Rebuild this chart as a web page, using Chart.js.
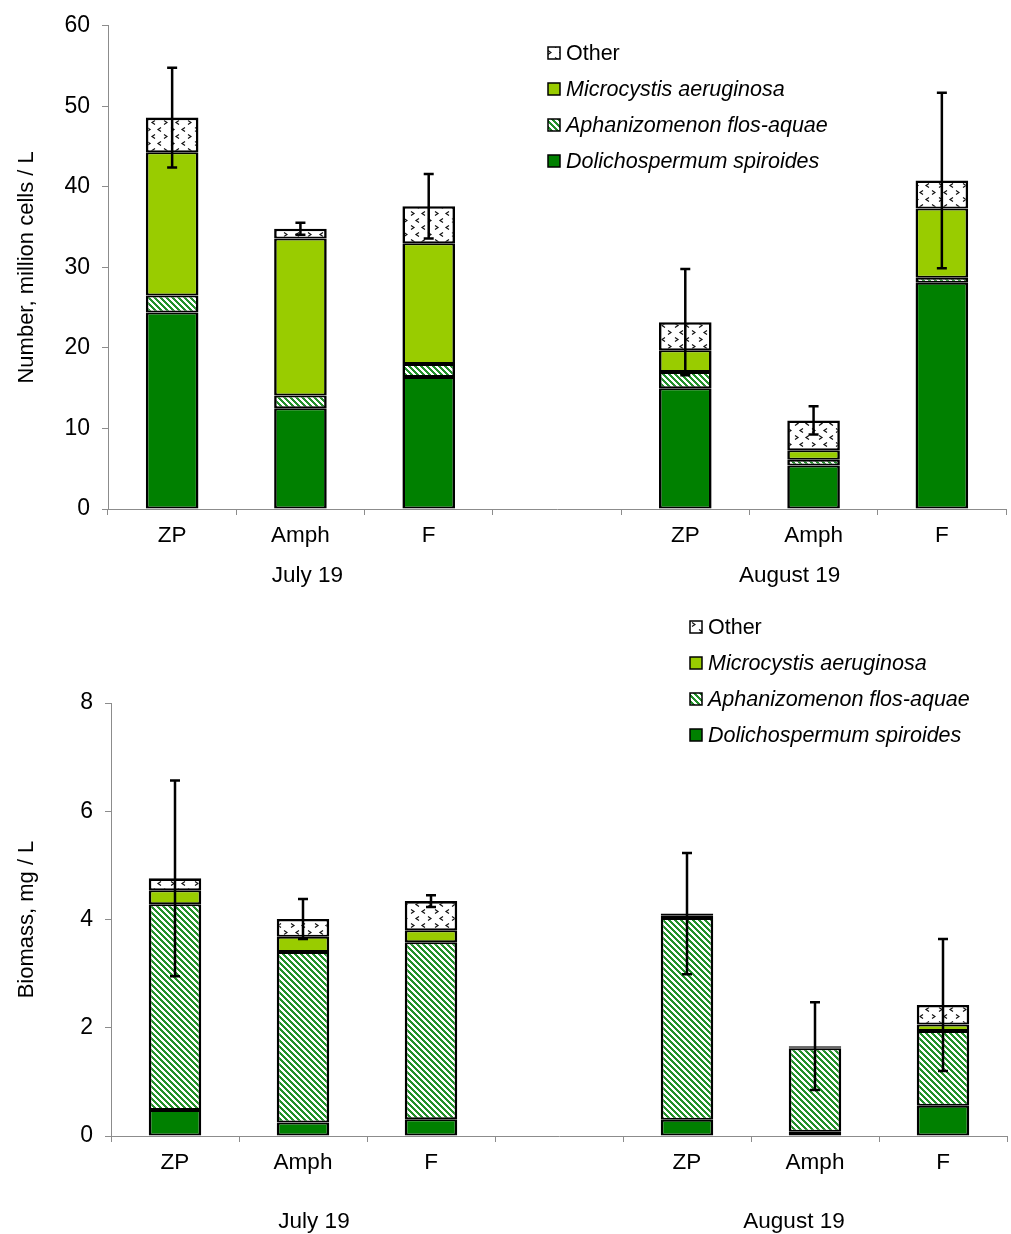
<!DOCTYPE html>
<html>
<head>
<meta charset="utf-8">
<script src="https://cdn.jsdelivr.net/npm/chart.js@4.4.1/dist/chart.umd.min.js"></script>
<style>
  body { margin: 0; background: #fff; }
  .box { position: absolute; left: 0; width: 1011px; }
  #top { top: 0; height: 600px; }
  #bottom { top: 600px; height: 634px; }
</style>
</head>
<body>
<div class="box" id="top"><canvas id="count-chart"></canvas></div>
<div class="box" id="bottom"><canvas id="mass-chart"></canvas></div>
<script>
const categories = ['ZP', 'Amph', 'F', '', 'ZP', 'Amph', 'F'];
const groupLabels = ['July 19', 'August 19'];

// number, million cells / L
const dolichoCount = [24.4, 12.5, 16.4, null, 15.0, 5.4, 28.1];
const aphanCount   = [2.1, 1.6, 1.6, null, 2.0, 0.7, 0.6];
const microCount   = [17.8, 19.5, 15.0, null, 2.7, 1.2, 8.6];
const otherCount   = [4.3, 1.2, 4.6, null, 3.5, 3.7, 3.5];
const countErr     = [6.2, 0.75, 4.0, null, 6.6, 1.75, 10.9];
const countTicks   = [0, 10, 20, 30, 40, 50, 60];

// biomass, mg / L
const dolichoMass = [0.48, 0.25, 0.31, null, 0.30, 0.08, 0.56];
const aphanMass   = [3.80, 3.15, 3.27, null, 3.73, 1.54, 1.38];
const microMass   = [0.26, 0.28, 0.22, null, 0.04, 0.02, 0.12];
const otherMass   = [0.22, 0.33, 0.54, null, 0.04, 0.02, 0.36];
const massErr     = [1.81, 0.37, 0.11, null, 1.12, 0.81, 1.22];
const massTicks   = [0, 2, 4, 6, 8];

const FONT = "'Liberation Sans', Arial, sans-serif";
const AXIS = '#8c8c8c';

// fills
function hatchPattern() {
  const s = 6, c = document.createElement('canvas');
  c.width = s; c.height = s;
  const g = c.getContext('2d');
  g.fillStyle = '#fff'; g.fillRect(0, 0, s, s);
  g.fillStyle = '#23902a';
  for (let x = 0; x < s; x++)
    for (let y = 0; y < s; y++)
      if (((x - y + s) % s) < 3) g.fillRect(x, y, 1, 1);
  return g.createPattern(c, 'repeat');
}
function dotPattern() {
  const c = document.createElement('canvas');
  c.width = 24; c.height = 14;
  const g = c.getContext('2d');
  g.fillStyle = '#fff'; g.fillRect(0, 0, 24, 14);
  g.strokeStyle = '#111'; g.lineWidth = 1.2;
  const chev = (x, y, d) => { g.beginPath(); g.moveTo(x, y); g.lineTo(x + 3 * d, y + 2); g.lineTo(x, y + 4); g.stroke(); };
  chev(3, 1.5, 1); chev(17, 1.5, -1); chev(11, 8.5, -1); chev(20, 8.5, 1);
  return g.createPattern(c, 'repeat');
}
const hatch = hatchPattern();
const dots = dotPattern();

function makeSets(d, a, m, o) {
  const base = {
    borderColor: '#000', borderWidth: { top: 2, bottom: 2, left: 2.6, right: 2.6 },
    borderSkipped: false, inflateAmount: 0, barPercentage: 0.41, categoryPercentage: 1
  };
  return [
    { ...base, label: 'Dolichospermum spiroides', data: d, backgroundColor: '#008000', italic: true },
    { ...base, label: 'Aphanizomenon flos-aquae', data: a, backgroundColor: hatch, italic: true },
    { ...base, label: 'Microcystis aeruginosa', data: m, backgroundColor: '#99cc00', italic: true },
    { ...base, label: 'Other', data: o, backgroundColor: dots, italic: false,
      borderWidth: { top: 2.6, bottom: 2, left: 2.6, right: 2.6 } }
  ];
}

// error bars on top of each stack
const errorBars = {
  id: 'errorBars',
  afterDatasetsDraw(chart, args, opts) {
    const ctx = chart.ctx, y = chart.scales.y;
    const n = chart.data.datasets.length;
    const last = chart.getDatasetMeta(n - 1);
    ctx.save();
    ctx.strokeStyle = '#000'; ctx.lineWidth = 2.5;
    opts.errors.forEach((e, i) => {
      if (e == null) return;
      let total = 0;
      chart.data.datasets.forEach(ds => total += ds.data[i] || 0);
      const x = last.data[i].x;
      const hi = y.getPixelForValue(total + e), lo = y.getPixelForValue(total - e);
      ctx.beginPath();
      ctx.moveTo(x, hi); ctx.lineTo(x, lo);
      ctx.moveTo(x - 5, hi); ctx.lineTo(x + 5, hi);
      ctx.moveTo(x - 5, lo); ctx.lineTo(x + 5, lo);
      ctx.stroke();
    });
    ctx.restore();
  }
};

// month labels under the category labels
const groupAxis = {
  id: 'groupAxis',
  afterDraw(chart, args, opts) {
    const ctx = chart.ctx, x = chart.scales.x;
    ctx.save();
    ctx.font = '22.5px ' + FONT; ctx.fillStyle = '#000';
    ctx.textAlign = 'center'; ctx.textBaseline = 'middle';
    opts.groups.forEach(g => {
      const cx = (x.getPixelForValue(g.from) + x.getPixelForValue(g.to)) / 2 + g.dx;
      ctx.fillText(g.label, cx, x.top + opts.dy);
    });
    ctx.restore();
  }
};

// legend with pattern swatches, reversed order
const swatchLegend = {
  id: 'swatchLegend',
  afterDraw(chart, args, opts) {
    const ctx = chart.ctx;
    const sets = chart.data.datasets.slice().reverse();
    ctx.save();
    ctx.textBaseline = 'middle';
    sets.forEach((ds, k) => {
      const cy = opts.y + k * opts.rowH;
      ctx.fillStyle = ds.backgroundColor;
      ctx.fillRect(opts.x, cy - 6, 12, 12);
      ctx.strokeStyle = '#000'; ctx.lineWidth = 1.5;
      ctx.strokeRect(opts.x, cy - 6, 12, 12);
      ctx.fillStyle = '#000';
      ctx.font = (ds.italic ? 'italic ' : '') + '21.5px ' + FONT;
      ctx.fillText(ds.label, opts.x + 18, cy + 1);
    });
    ctx.restore();
  }
};

function buildChart(id, sets, yMax, step, yTicks, title, err, o) {
  return new Chart(document.getElementById(id), {
    type: 'bar',
    data: { labels: categories, datasets: sets },
    plugins: [errorBars, groupAxis, swatchLegend],
    options: {
      responsive: true,
      maintainAspectRatio: false,
      animation: false,
      layout: { padding: { top: o.padTop, right: o.padRight, bottom: 0, left: 0 } },
      plugins: {
        legend: { display: false },
        tooltip: { enabled: false },
        errorBars: { errors: err },
        groupAxis: {
          dy: o.groupDy,
          groups: [
            { label: groupLabels[0], from: 0, to: 2, dx: o.dx[0] },
            { label: groupLabels[1], from: 4, to: 6, dx: o.dx[1] }
          ]
        },
        swatchLegend: { x: o.legX, y: o.legY, rowH: 36 }
      },
      scales: {
        x: {
          stacked: true,
          afterFit: s => { s.height = o.xHeight; },
          grid: { display: true, drawOnChartArea: false, offset: true, tickLength: 6, color: AXIS },
          border: { display: true, color: AXIS, width: 1 },
          ticks: { color: '#000', font: { family: FONT, size: 22.5 }, padding: 7, maxRotation: 0, autoSkip: false }
        },
        y: {
          stacked: true,
          min: 0, max: yMax,
          afterFit: s => { s.width = o.yWidth; },
          afterBuildTicks: s => { s.ticks = yTicks.map(v => ({ value: v })); },
          grid: { display: true, drawOnChartArea: false, tickLength: 6, color: AXIS },
          border: { display: true, color: AXIS, width: 1 },
          ticks: { stepSize: step, color: '#000', font: { family: FONT, size: 23 }, padding: 12 },
          title: { display: true, text: title, color: '#000', font: { family: FONT, size: 22 }, padding: { top: 14, bottom: 0 } }
        }
      }
    }
  });
}

buildChart('count-chart', makeSets(dolichoCount, aphanCount, microCount, otherCount),
  60, 10, countTicks, 'Number, million cells / L', countErr,
  { padTop: 22, padRight: 5, xHeight: 91, yWidth: 108, groupDy: 67, dx: [7, -24], legX: 548, legY: 53 });

buildChart('mass-chart', makeSets(dolichoMass, aphanMass, microMass, otherMass),
  8, 2, massTicks, 'Biomass, mg / L', massErr,
  { padTop: 103, padRight: 4, xHeight: 98, yWidth: 111, groupDy: 86, dx: [11, -21], legX: 690, legY: 27 });
</script>
</body>
</html>
